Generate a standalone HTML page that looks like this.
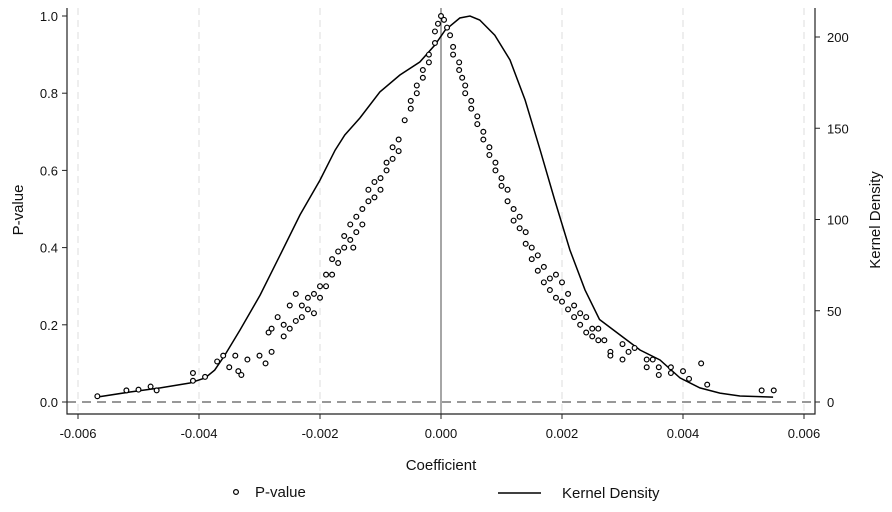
<!DOCTYPE html>
<html><head><meta charset="utf-8"><style>
body{margin:0;background:#fff;}
svg text{font-family:"Liberation Sans",Arial,sans-serif;fill:#111;}
</style></head><body>
<svg id="chart" width="892" height="507" viewBox="0 0 892 507"></svg>
<script>
const xTicks=[-0.006,-0.004,-0.002,0,0.002,0.004,0.006];
const xTickLabels=["-0.006","-0.004","-0.002","0.000","0.002","0.004","0.006"];
const pTicks=[0,0.2,0.4,0.6,0.8,1.0];
const pTickLabels=["0.0","0.2","0.4","0.6","0.8","1.0"];
const dTicks=[0,50,100,150,200];
const dTickLabels=["0","50","100","150","200"];
const densityX=[-0.00569,-0.00514,-0.00464,-0.00415,-0.0039,-0.00374,-0.00357,-0.00332,-0.00299,-0.00266,-0.00233,-0.002,-0.00175,-0.00159,-0.00134,-0.00101,-0.00068,-0.00035,-0.0001,0.00007,0.00031,0.00048,0.00064,0.00089,0.00114,0.00139,0.00164,0.00188,0.00213,0.00238,0.00262,0.00296,0.00329,0.00362,0.00395,0.00428,0.00461,0.00494,0.00549];
const densityY=[2.7,5.5,7.7,10.4,13.2,17.5,25.8,39.5,58.6,80.5,102.5,121.6,138,146.3,155.6,169.9,179.2,186.3,195.6,203.8,210.4,211.5,209.3,201,187.4,165.5,138,110.7,83.3,61.4,45.2,36.7,28.5,23,13.2,7.7,4.9,3.3,2.7];
const coefs=[-0.00568,-0.0052,-0.005,-0.0048,-0.0047,-0.0041,-0.0041,-0.0039,-0.0037,-0.0036,-0.0035,-0.0034,-0.00335,-0.0033,-0.0032,-0.003,-0.0029,-0.0028,-0.00285,-0.0028,-0.0027,-0.0026,-0.0026,-0.0025,-0.0025,-0.0024,-0.0024,-0.0023,-0.0023,-0.0022,-0.0022,-0.0021,-0.0021,-0.002,-0.002,-0.0019,-0.0019,-0.0018,-0.0018,-0.0017,-0.0017,-0.0016,-0.0016,-0.0015,-0.0015,-0.00145,-0.0014,-0.0014,-0.0013,-0.0013,-0.0012,-0.0012,-0.0011,-0.0011,-0.001,-0.001,-0.0009,-0.0009,-0.0008,-0.0008,-0.0007,-0.0007,-0.0006,-0.0005,-0.0005,-0.0004,-0.0004,-0.0003,-0.0003,-0.0002,-0.0002,-0.0001,-0.0001,-0.00005,0,
0.00005,0.0001,0.00015,0.0002,0.0002,0.0003,0.0003,0.00035,0.0004,0.0004,0.0005,0.0005,0.0006,0.0006,0.0007,0.0007,0.0008,0.0008,0.0009,0.0009,0.001,0.001,0.0011,0.0011,0.0012,0.0012,0.0013,0.0013,0.0014,0.0014,0.0015,0.0015,0.0016,0.0016,0.0017,0.0017,0.0018,0.0018,0.0019,0.0019,0.002,0.002,0.0021,0.0021,0.0022,0.0022,0.0023,0.0023,0.0024,0.0024,0.0025,0.0025,0.0026,0.0026,0.0027,0.0028,0.0028,0.003,0.003,0.0031,0.0032,0.0034,0.0034,0.0035,0.0036,0.0036,0.0038,0.0038,0.004,0.0041,0.0043,0.0044,0.0053,0.0055];
const pvals=[0.015,0.03,0.032,0.04,0.03,0.055,0.075,0.065,0.105,0.12,0.09,0.12,0.08,0.07,0.11,0.12,0.1,0.13,0.18,0.19,0.22,0.17,0.2,0.19,0.25,0.21,0.28,0.25,0.22,0.27,0.24,0.28,0.23,0.3,0.27,0.33,0.3,0.33,0.37,0.36,0.39,0.4,0.43,0.42,0.46,0.4,0.48,0.44,0.5,0.46,0.52,0.55,0.53,0.57,0.58,0.55,0.6,0.62,0.63,0.66,0.68,0.65,0.73,0.76,0.78,0.8,0.82,0.84,0.86,0.88,0.9,0.93,0.96,0.98,1.0,
0.99,0.97,0.95,0.92,0.9,0.88,0.86,0.84,0.82,0.8,0.78,0.76,0.74,0.72,0.7,0.68,0.66,0.64,0.62,0.6,0.58,0.56,0.55,0.52,0.5,0.47,0.48,0.45,0.44,0.41,0.4,0.37,0.38,0.34,0.35,0.31,0.32,0.29,0.33,0.27,0.31,0.26,0.28,0.24,0.25,0.22,0.23,0.2,0.22,0.18,0.19,0.17,0.19,0.16,0.16,0.13,0.12,0.15,0.11,0.13,0.14,0.11,0.09,0.11,0.07,0.09,0.09,0.075,0.08,0.06,0.1,0.045,0.03,0.03];

const NS="http://www.w3.org/2000/svg";
const svg=document.getElementById('chart');
const X0=441,XS=60500,PY0=402,PY1=16,DYS=1.825;
const L=67,R=815,B=414,T=8;
function sx(v){return X0+v*XS;}
function sp(v){return PY0-v*(PY0-PY1);}
function sd(v){return PY0-v*DYS;}
function el(tag,attrs,parent){const e=document.createElementNS(NS,tag);for(const k in attrs)e.setAttribute(k,attrs[k]);(parent||svg).appendChild(e);return e;}

// grid
xTicks.forEach((t,i)=>{if(t===0)return;
 const g=el('line',{x1:sx(t),x2:sx(t),y1:T,y2:B,stroke:'#ddd','stroke-dasharray':'7,5','stroke-width':1});
 
 });
const zl=el('line',{x1:L,x2:R,y1:sp(0),y2:sp(0),stroke:'#777','stroke-dasharray':'9,6','stroke-width':1.4});


const vl=el('line',{x1:sx(0),x2:sx(0),y1:T,y2:B,stroke:'#888','stroke-width':1.5});



// axes
const ax=el('path',{d:`M${L},${T}V${B}H${R}V${T}`,fill:'none',stroke:'#222','stroke-width':1.2});


xTicks.forEach((t,i)=>{
 el('line',{x1:sx(t),x2:sx(t),y1:B,y2:B+5,stroke:'#222'});
 const tx=el('text',{x:sx(t),y:B+24,'text-anchor':'middle','font-size':13});tx.textContent=xTickLabels[i];
 
 });
pTicks.forEach((t,i)=>{
 el('line',{x1:L-5,x2:L,y1:sp(t),y2:sp(t),stroke:'#222'});
 const tx=el('text',{x:L-9,y:sp(t)+5,'text-anchor':'end','font-size':13});tx.textContent=pTickLabels[i];
 
 });
dTicks.forEach((t,i)=>{
 el('line',{x1:R,x2:R+5,y1:sd(t),y2:sd(t),stroke:'#222'});
 const tx=el('text',{x:R+12,y:sd(t)+5,'text-anchor':'start','font-size':13});tx.textContent=dTickLabels[i];
 
 });

// density line
let d='';densityX.forEach((v,i)=>{d+=(i?'L':'M')+sx(v).toFixed(1)+','+sd(densityY[i]).toFixed(1);});
const dl=el('path',{d:d,fill:'none',stroke:'#000','stroke-width':1.5});



// scatter
coefs.forEach((c,i)=>{
 const p=el('circle',{cx:sx(c),cy:sp(pvals[i]),r:2.4,fill:'#fff',stroke:'#000','stroke-width':1.2});
 
 });

// titles
const xt=el('text',{x:441,y:470,'text-anchor':'middle','font-size':15});xt.textContent='Coefficient';


const yt=el('text',{x:0,y:0,'text-anchor':'middle','font-size':15,transform:'translate(23,210) rotate(-90)'});yt.textContent='P-value';


const yt2=el('text',{x:0,y:0,'text-anchor':'middle','font-size':15,transform:'translate(880,220) rotate(-90)'});yt2.textContent='Kernel Density';



// legend
const lc=el('circle',{cx:236,cy:492,r:2.4,fill:'#fff',stroke:'#000','stroke-width':1.2});


const lt=el('text',{x:255,y:497,'font-size':15});lt.textContent='P-value';


const ll=el('line',{x1:498,x2:541,y1:493,y2:493,stroke:'#000','stroke-width':1.5});


const lt2=el('text',{x:562,y:498,'font-size':15});lt2.textContent='Kernel Density';


</script>
</body></html>
